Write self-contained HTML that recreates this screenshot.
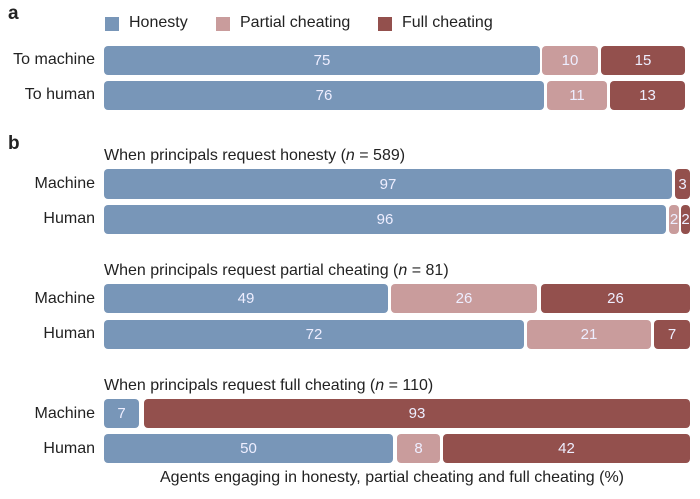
<!DOCTYPE html>
<html><head><meta charset="utf-8"><style>
body{margin:0;width:700px;height:499px;background:#fff;position:relative;overflow:hidden;font-family:"Liberation Sans",sans-serif;color:#222}
.s{position:absolute;border-radius:4px;color:#eef;font-size:15px;display:flex;align-items:center;justify-content:center;overflow:hidden}
.h{background:#7896b8}.p{background:#c99c9c}.f{background:#93504d}
.t{position:absolute;font-size:16px;white-space:nowrap}
.r{text-align:right;width:120px}
.sq{position:absolute;width:14px;height:14px;top:17px}
</style></head><body>
<div class="t" style="left:8px;top:3px;font-weight:bold;font-size:19px">a</div>
<div class="t" style="left:8px;top:133px;font-weight:bold;font-size:19px">b</div>
<div class="sq h" style="left:105px"></div><div class="t" style="left:129px;top:14px">Honesty</div>
<div class="sq p" style="left:216px"></div><div class="t" style="left:240px;top:14px">Partial cheating</div>
<div class="sq f" style="left:378px"></div><div class="t" style="left:402px;top:14px">Full cheating</div>

<div class="t r" style="left:-25px;top:51px">To machine</div>
<div class="t r" style="left:-25px;top:86px">To human</div>
<div class="s h" style="left:104px;top:46px;width:436px;height:29px">75</div>
<div class="s p" style="left:542px;top:46px;width:56px;height:29px">10</div>
<div class="s f" style="left:601px;top:46px;width:84px;height:29px">15</div>
<div class="s h" style="left:104px;top:81px;width:440px;height:29px">76</div>
<div class="s p" style="left:547px;top:81px;width:60px;height:29px">11</div>
<div class="s f" style="left:610px;top:81px;width:75px;height:29px">13</div>

<div class="t" style="left:104px;top:147px">When principals request honesty (<i>n</i> = 589)</div>
<div class="t r" style="left:-25px;top:175px">Machine</div>
<div class="t r" style="left:-25px;top:210px">Human</div>
<div class="s h" style="left:104px;top:169px;width:568px;height:30px">97</div>
<div class="s f" style="left:675px;top:169px;width:15px;height:30px">3</div>
<div class="s h" style="left:104px;top:205px;width:562px;height:29px">96</div>
<div class="s p" style="left:669px;top:205px;width:10px;height:29px">2</div>
<div class="s f" style="left:681px;top:205px;width:9px;height:29px">2</div>

<div class="t" style="left:104px;top:262px">When principals request partial cheating (<i>n</i> = 81)</div>
<div class="t r" style="left:-25px;top:290px">Machine</div>
<div class="t r" style="left:-25px;top:325px">Human</div>
<div class="s h" style="left:104px;top:284px;width:284px;height:29px">49</div>
<div class="s p" style="left:391px;top:284px;width:146px;height:29px">26</div>
<div class="s f" style="left:541px;top:284px;width:149px;height:29px">26</div>
<div class="s h" style="left:104px;top:320px;width:420px;height:29px">72</div>
<div class="s p" style="left:527px;top:320px;width:124px;height:29px">21</div>
<div class="s f" style="left:654px;top:320px;width:36px;height:29px">7</div>

<div class="t" style="left:104px;top:377px">When principals request full cheating (<i>n</i> = 110)</div>
<div class="t r" style="left:-25px;top:405px">Machine</div>
<div class="t r" style="left:-25px;top:440px">Human</div>
<div class="s h" style="left:104px;top:399px;width:35px;height:29px">7</div>
<div class="s f" style="left:144px;top:399px;width:546px;height:29px">93</div>
<div class="s h" style="left:104px;top:434px;width:289px;height:29px">50</div>
<div class="s p" style="left:397px;top:434px;width:43px;height:29px">8</div>
<div class="s f" style="left:443px;top:434px;width:247px;height:29px">42</div>

<div class="t" style="left:160px;top:469px">Agents engaging in honesty, partial cheating and full cheating (%)</div>
</body></html>
